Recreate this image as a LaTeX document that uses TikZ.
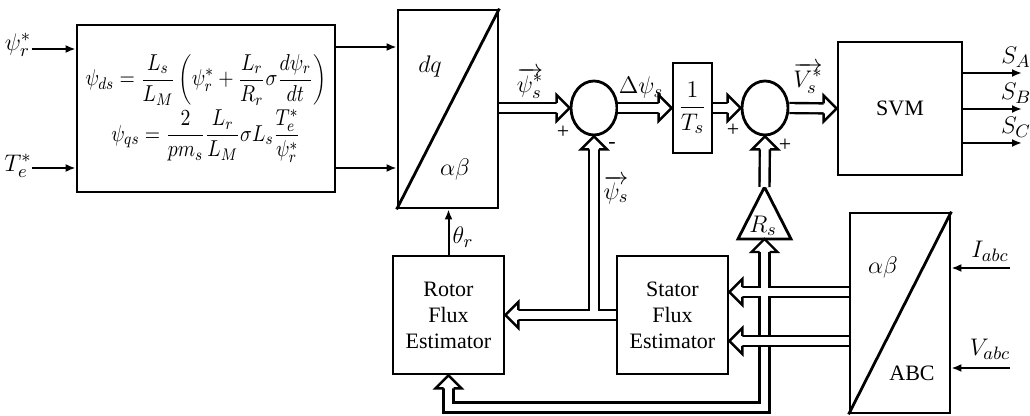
\documentclass[tikz,border=0pt]{standalone}
\usepackage{fontspec}
\setmainfont{Liberation Serif}
\usetikzlibrary{arrows.meta,shapes.geometric,calc}
\begin{document}
\begin{tikzpicture}[x=0.5pt,y=-0.5pt,
  font=\fontsize{11}{13}\selectfont,
  box/.style={draw,line width=1.4pt,inner sep=0pt,align=center},
  sig/.style={line width=1pt,-{Latex[length=5pt,width=4pt]}},
  pipebody/.style={double,double distance=3.8pt,line width=1.2pt},
  pipe/.style={pipebody,shorten >=5pt},
  phead/.pic={
    \fill[white] (-6.5pt,-6.5pt) -- (0pt,0pt) -- (-6.5pt,6.5pt) -- cycle;
    \draw[line width=1.2pt,line join=miter,miter limit=4]
      (-6.5pt,2.5pt) -- (-6.5pt,6.5pt) -- (0pt,0pt) -- (-6.5pt,-6.5pt) -- (-6.5pt,-2.5pt);
  },
  sumnode/.style={draw,line width=1.4pt,ellipse,minimum width=23pt,minimum height=27pt,inner sep=0pt},
  lbl/.style={inner sep=0pt},
  mlbl/.style={inner sep=0pt,font=\fontsize{12.5}{14}\selectfont},
  diag/.style={line width=1.4pt}]
\useasboundingbox (0,0) rectangle (1030,416);

% blocks
\node[box,minimum width=129pt,minimum height=83.5pt] (eq) at (206,108.5)
  {\scalebox{0.9}[1.05]{$\displaystyle \psi_{ds}=\frac{L_s}{L_M}\left(\psi_r^*+\frac{L_r}{R_r}\sigma\frac{d\psi_r}{dt}\right)$}\\[1pt]
   \scalebox{0.9}[1.05]{$\displaystyle \psi_{qs}=\frac{2}{pm_s}\frac{L_r}{L_M}\sigma L_s\frac{T_e^*}{\psi_r^*}$}};
\node[box,minimum width=50pt,minimum height=99pt] (dq) at (448,109) {};
\draw[diag] (dq.south west) -- (dq.north east);
\node[mlbl] (dqt) at (430,67) {$dq$};
\node[mlbl] (abt) at (455,170) {$\alpha\beta$};

\node[sumnode] (sum1) at (594,108) {};
\node[box,minimum width=19.5pt,minimum height=45pt] (ts) at (692.5,108) {\fontsize{12.5}{14}\selectfont$\displaystyle\frac{1}{T_s}$};
\node[sumnode] (sum2) at (765,108) {};
\node[box,minimum width=62pt,minimum height=66.5pt] (svm) at (900,108.5) {SVM};

% Rs gain triangle
\coordinate (rsA) at (764.5,187);
\coordinate (rsB) at (764.5,239);
\draw[line width=1.4pt,line join=miter] (738,239) -- (rsA) -- (791,239) -- cycle;
\node[mlbl] (rst) at (763,226) {$R_s$};

\node[box,minimum width=55.5pt,minimum height=59pt] (rotor) at (448.5,315) {Rotor\\Flux\\Estimator};
\node[box,minimum width=55.5pt,minimum height=59pt] (stator) at (672.5,315) {Stator\\Flux\\Estimator};
\node[box,minimum width=50pt,minimum height=100pt] (abc) at (900,313) {};
\draw[diag] (abc.south west) -- (abc.north east);
\node[mlbl] (abt2) at (883,268) {$\alpha\beta$};
\node[lbl] (abct) at (912,373) {ABC};

% input labels
\node[mlbl] (psir) at (18,45) {$\psi_r^*$};
\node[mlbl] (te) at (18,166) {$T_e^*$};
\draw[sig] (psir.east |- 0,49) -- (eq.west |- 0,49);
\draw[sig] (te.east |- 0,168) -- (eq.west |- 0,168);
\draw[sig] (eq.east |- 0,47) -- (dq.west |- 0,47);
\draw[sig] (eq.east |- 0,168) -- (dq.west |- 0,168);

% forward pipes
\draw[pipe] (dq.east |- sum1.west) -- (sum1.west);
\draw[pipe] (sum1.east) -- (ts.west);
\draw[pipe] (ts.east) -- (sum2.west);
\draw[pipe] (sum2.east) -- (svm.west);
\node[mlbl] (psisv) at (530,83) {$\overrightarrow{\psi_s^*}$};
\node[mlbl] (dpsi) at (641,88) {$\Delta\psi_s$};
\node[mlbl] (vsv) at (808,78) {$\overrightarrow{V_s^*}$};
\node[lbl] (p1) at (563,132) {+};
\node[lbl] (m1) at (612,146) {-};
\node[lbl] (p2) at (733,130) {+};
\node[lbl] (p3) at (785,145) {+};

% SVM outputs
\coordinate (sa) at (1022,73);
\coordinate (sb) at (1022,109);
\coordinate (sc) at (1022,143);
\draw[sig] (svm.east |- sa) -- (sa);
\draw[sig] (svm.east |- sb) -- (sb);
\draw[sig] (svm.east |- sc) -- (sc);
\node[mlbl] (sat) at (1016,57) {$S_A$};
\node[mlbl] (sbt) at (1016,93) {$S_B$};
\node[mlbl] (sct) at (1016,127) {$S_C$};

% theta
\draw[sig] (rotor.north) -- (rotor.north |- dq.south);
\node[mlbl] (th) at (463,237) {$\theta_r$};

% flux feedback: T junction from stator, to sum1 and rotor
\draw[pipebody] (stator.west) -- (sum1.south |- stator.west)
  ($(sum1.south)+(0,10)$) -- (sum1.south |- rotor.east) -- ($(rotor.east)+(10,0)$);
\node[mlbl] (psis) at (616,190) {$\overrightarrow{\psi_s}$};

% Rs to sum2
\draw[pipe] (rsA) -- (sum2.south);

% current network (junction) and voltage pipe (crossing)
\draw[pipebody] (abc.west |- 0,292) -- ($(stator.east |- 0,292)+(10,0)$)
  ($(rsB)+(0,10)$) -- (rsB |- 0,407.5) -| ($(rotor.south)+(0,10)$);
\draw[pipe] (abc.west |- 0,341) -- (stator.east |- 0,341);

% pipe heads
\pic at (sum1.west) {phead};
\pic at (ts.west) {phead};
\pic at (sum2.west) {phead};
\pic at (svm.west) {phead};
\pic[rotate=90] at (sum1.south) {phead};
\pic[rotate=180] at (rotor.east) {phead};
\pic[rotate=90] at (sum2.south) {phead};
\pic[rotate=90] at (rsB) {phead};
\pic[rotate=90] at (rotor.south) {phead};
\pic[rotate=180] at (stator.east |- 0,292) {phead};
\pic[rotate=180] at (stator.east |- 0,341) {phead};

% measured inputs
\coordinate (ia) at (1010,268);
\coordinate (va) at (1010,368);
\draw[sig] (ia) -- (abc.east |- ia);
\draw[sig] (va) -- (abc.east |- va);
\node[mlbl] (iat) at (990,251) {$I_{abc}$};
\node[mlbl] (vat) at (990,349) {$V_{abc}$};
\end{tikzpicture}
\end{document}
